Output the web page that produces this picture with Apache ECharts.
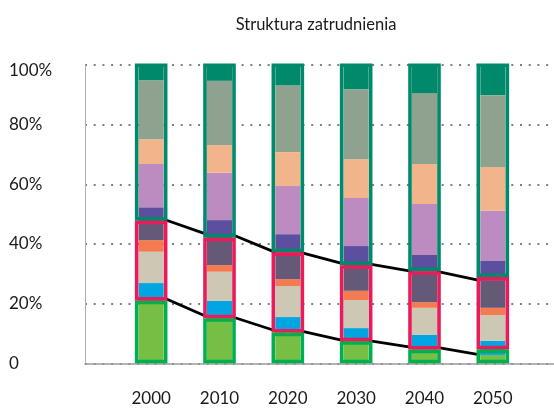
<!DOCTYPE html>
<html>
<head>
<meta charset="utf-8">
<script src="https://cdn.jsdelivr.net/npm/echarts@6/dist/echarts.min.js"></script>
<style>
html,body{margin:0;padding:0;background:#fff;}
#chart{width:554px;height:410px;}
</style>
</head>
<body>
<div id="chart"></div>
<script>
// ---- data ----
const title = 'Struktura zatrudnienia';
const years = ['2000', '2010', '2020', '2030', '2040', '2050'];
const yTicks = [0, 20, 40, 60, 80, 100];

// stacked segments, bottom to top (% of employment)
const sLime      = [22.0, 15.6, 10.9, 7.6, 5.3, 2.8];
const sBlue      = [4.9, 5.3, 4.6, 4.2, 4.2, 4.7];
const sBeige     = [10.5, 9.8, 10.4, 9.4, 9.1, 8.7];
const sOrange    = [3.9, 2.2, 2.3, 3.1, 1.9, 2.4];
const sSlate     = [7.0, 10.3, 9.0, 9.0, 10.3, 9.1];
const sDarkPurp  = [4.0, 4.8, 6.1, 6.0, 5.5, 6.6];
const sPurple    = [14.5, 15.9, 16.1, 16.1, 17.1, 16.8];
const sPeach     = [8.3, 9.2, 11.4, 13.0, 13.4, 14.7];
const sGrayGreen = [19.8, 21.6, 22.4, 23.5, 23.8, 24.1];
const sDarkGreen = [5.1, 5.3, 6.8, 8.1, 9.4, 10.1];

// group outline boxes (boundaries in %)
const boxTop   = [100.5, 100.5, 100.5, 100.5, 100.5, 100.5];
const boxUpper = [47.8, 42.1, 37.2, 32.9, 30.9, 28.9];
const boxLower = [21.0, 15.1, 10.3, 7.4, 4.6, 4.7];
const boxBase  = [0, 0, 0, 0, 0, 0];

// series lines (tops of cumulative stacks)
const lineUpper = [48.3, 43.2, 37.2, 33.3, 30.8, 27.7];
const lineLower = [22.0, 15.6, 10.9, 7.6, 5.3, 2.8];

const segments = [
  {name: 'a', data: sLime, color: '#77bf44'},
  {name: 'b', data: sBlue, color: '#00a5e2'},
  {name: 'c', data: sBeige, color: '#ccc8b3'},
  {name: 'd', data: sOrange, color: '#f47b50'},
  {name: 'e', data: sSlate, color: '#645a78'},
  {name: 'f', data: sDarkPurp, color: '#5d4f9f'},
  {name: 'g', data: sPurple, color: '#bc8bbf'},
  {name: 'h', data: sPeach, color: '#f2b48a'},
  {name: 'i', data: sGrayGreen, color: '#8fa28f'},
  {name: 'j', data: sDarkGreen, color: '#00896a'}
];

const FONT = 'Lato';
const BAR_W = 25, BOX_W = 32.6, BOX_LW = 3.6;

function boxRender(color) {
  return function (params, api) {
    const i = api.value(0), lo = api.value(1), hi = api.value(2);
    const pLo = api.coord([i, lo]);
    const pHi = api.coord([i, hi]);
    return {
      type: 'rect',
      shape: {
        x: pLo[0] - BOX_W / 2 + BOX_LW / 2,
        y: pHi[1] + BOX_LW / 2,
        width: BOX_W - BOX_LW,
        height: pLo[1] - pHi[1] - BOX_LW
      },
      style: {fill: 'none', stroke: color, lineWidth: BOX_LW}
    };
  };
}

function lineRender(params, api) {
  const i = api.value(0), v1 = api.value(1), v2 = api.value(2);
  const p1 = api.coord([i, v1]);
  const p2 = api.coord([i + 1, v2]);
  return {
    type: 'line',
    shape: {x1: p1[0] + BAR_W / 2, y1: p1[1], x2: p2[0] - BAR_W / 2, y2: p2[1]},
    style: {stroke: '#000', lineWidth: 2.8, lineCap: 'butt'}
  };
}

function lineData(arr) {
  const out = [];
  for (let i = 0; i < arr.length - 1; i++) out.push([i, arr[i], arr[i + 1]]);
  return out;
}
function boxData(lo, hi) {
  return lo.map((v, i) => [i, v, hi[i]]);
}

const series = [];
segments.forEach(s => {
  series.push({
    type: 'bar', name: s.name, stack: 'all', data: s.data,
    xAxisIndex: 1, yAxisIndex: 1, barWidth: BAR_W,
    itemStyle: {color: s.color}, z: 3, silent: true
  });
});
series.push({type: 'custom', xAxisIndex: 1, yAxisIndex: 1, renderItem: lineRender, data: lineData(lineUpper), z: 2, silent: true});
series.push({type: 'custom', xAxisIndex: 1, yAxisIndex: 1, renderItem: lineRender, data: lineData(lineLower), z: 2, silent: true});
series.push({type: 'custom', xAxisIndex: 1, yAxisIndex: 1, renderItem: boxRender('#00896a'), data: boxData(boxUpper, boxTop), z: 5, silent: true});
series.push({type: 'custom', xAxisIndex: 1, yAxisIndex: 1, renderItem: boxRender('#00b050'), data: boxData(boxBase, boxLower), z: 5, silent: true});
series.push({type: 'custom', xAxisIndex: 1, yAxisIndex: 1, renderItem: boxRender('#e91c5b'), data: boxData(boxLower, boxUpper), z: 6, silent: true});

const chart = echarts.init(document.getElementById('chart'), null, {renderer: 'canvas'});
chart.setOption({
  animation: false,
  backgroundColor: '#fff',
  title: {
    text: title, left: 311, top: 11, textAlign: 'center',
    textStyle: {fontFamily: FONT, fontSize: 16.5, fontWeight: 'normal', color: '#1a1a1a'}
  },
  grid: [
    {left: 85, right: 0, top: 65, bottom: 46.7},
    {left: 117, right: 27, top: 65, bottom: 46.7}
  ],
  xAxis: [
    {gridIndex: 0, type: 'value', min: 0, max: 1,
     axisLine: {show: true, onZero: false, lineStyle: {color: '#9a9a9a', width: 1.5}},
     axisTick: {show: false}, axisLabel: {show: false}, splitLine: {show: false}},
    {gridIndex: 1, type: 'category', data: years,
     axisLine: {show: false}, axisTick: {show: false}, splitLine: {show: false},
     axisLabel: {fontFamily: FONT, fontSize: 17, color: '#1a1a1a', margin: 27}}
  ],
  yAxis: [
    {gridIndex: 0, type: 'value', min: yTicks[0], max: yTicks[yTicks.length - 1], interval: 20,
     axisLine: {show: true, onZero: false, lineStyle: {color: '#b0b0b0', width: 1}},
     axisTick: {show: false},
     axisLabel: {
       align: 'left', margin: 76, fontFamily: FONT, fontSize: 17, color: '#1a1a1a',
       formatter: v => v === 0 ? '0' : (v === 100 ? '{t|100%}' : v + '%'),
       rich: {t: {fontFamily: FONT, fontSize: 17, color: '#1a1a1a', padding: [11, 0, 0, 0]}}
     },
     splitLine: {show: true, lineStyle: {color: '#7f7f7f', width: 2, type: [2, 6.7]}}},
    {gridIndex: 1, type: 'value', min: 0, max: 100, interval: 20, show: false}
  ],
  series: series
});
</script>
</body>
</html>
